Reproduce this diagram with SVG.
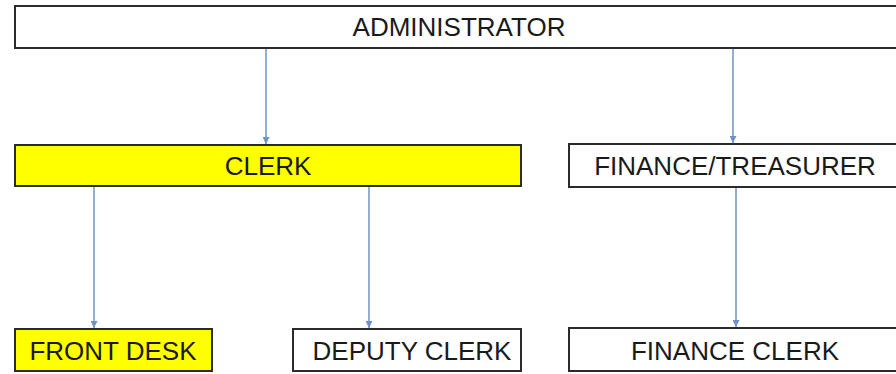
<svg xmlns="http://www.w3.org/2000/svg" width="896" height="374" viewBox="0 0 896 374">
<style>
.box{fill:#fff;stroke:#2b2b2b;stroke-width:2}
.yel{fill:#ffff00}
.t{font-family:"Liberation Sans",Arial,sans-serif;font-size:26px;fill:#1a1a1a;text-anchor:middle}
.c{stroke:#6f93c4;stroke-width:1.5;fill:none;marker-end:url(#ah)}
</style>
<defs>
<marker id="ah" viewBox="0 0 10 10" refX="10" refY="5" markerWidth="7" markerHeight="7" markerUnits="userSpaceOnUse" orient="auto">
<path d="M0,0 L10,5 L0,10 z" fill="#6f93c4"/>
</marker>
</defs>
<rect width="896" height="374" fill="#fff"/>
<g id="connectors">
<line class="c" x1="266" y1="49" x2="266" y2="144"/>
<line class="c" x1="733" y1="49" x2="733" y2="143"/>
<line class="c" x1="94" y1="187" x2="94" y2="328"/>
<line class="c" x1="369" y1="187" x2="369" y2="328"/>
<line class="c" x1="736" y1="188" x2="736" y2="327"/>
</g>
<g id="administrator">
<rect class="box" x="15" y="6" width="890" height="42"/>
<text class="t" x="459" y="36">ADMINISTRATOR</text>
</g>
<g id="clerk">
<rect class="box yel" x="15" y="145" width="506" height="41"/>
<text class="t" x="268" y="175">CLERK</text>
</g>
<g id="finance-treasurer">
<rect class="box" x="569" y="144" width="336" height="43"/>
<text class="t" x="735" y="175">FINANCE/TREASURER</text>
</g>
<g id="front-desk">
<rect class="box yel" x="15" y="329" width="197" height="42"/>
<text class="t" x="113" y="360">FRONT DESK</text>
</g>
<g id="deputy-clerk">
<rect class="box" x="293" y="329" width="228" height="42"/>
<text class="t" x="412" y="360">DEPUTY CLERK</text>
</g>
<g id="finance-clerk">
<rect class="box" x="569" y="328" width="336" height="43"/>
<text class="t" x="735" y="360">FINANCE CLERK</text>
</g>
</svg>
